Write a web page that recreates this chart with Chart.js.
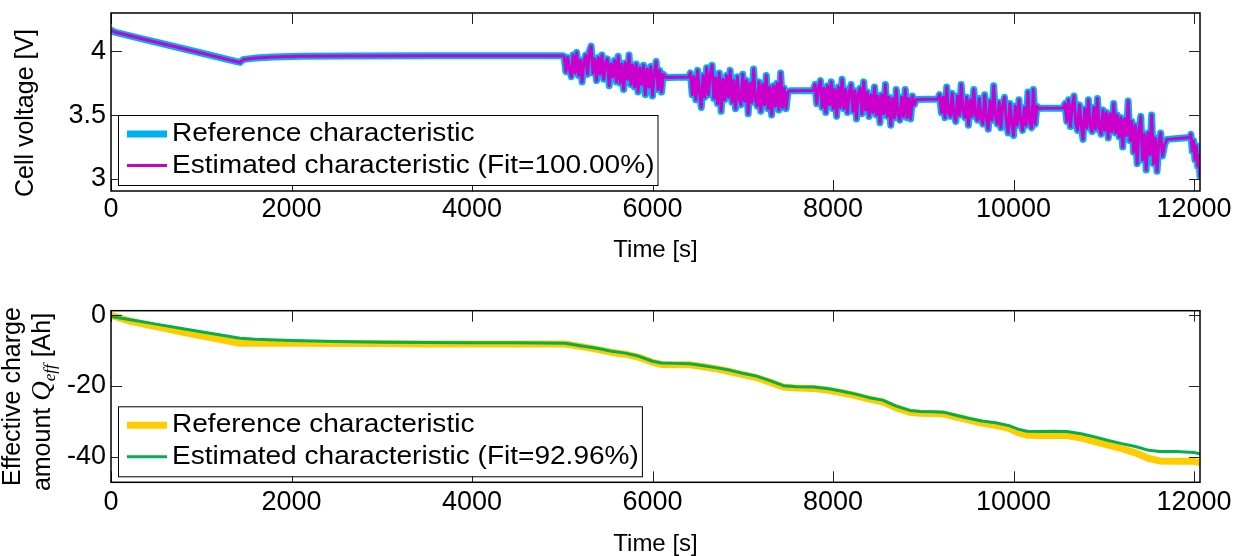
<!DOCTYPE html>
<html>
<head>
<meta charset="utf-8">
<script src="https://cdn.jsdelivr.net/npm/chart.js@4.4.1/dist/chart.umd.min.js"></script>
<style>
  body { margin: 0; background: #fff; }
  .panel { position: absolute; left: 0; width: 1242px; height: 278px; }
</style>
</head>
<body>
<div class="panel" style="top:0"><canvas id="voltage-chart" width="1242" height="278"></canvas></div>
<div class="panel" style="top:278px"><canvas id="charge-chart" width="1242" height="278"></canvas></div>
<script>
// Données : tension de cellule (référence = estimation, Fit=100%)
const timeV = [
  0, 40, 300, 700, 1000, 1300, 1430, 1450, 1470, 1600, 1800, 2100, 2600, 3500, 4500, 5005,
  5020, 5040, 5060, 5080, 5100, 5120, 5140, 5160, 5180, 5200,
  5220, 5240, 5260, 5280, 5300, 5320, 5340, 5360, 5380, 5400,
  5420, 5440, 5460, 5480, 5500, 5520, 5540, 5560, 5580, 5600,
  5620, 5640, 5660, 5680, 5700, 5720, 5740, 5760, 5780, 5800,
  5820, 5840, 5860, 5880, 5900, 5920, 5940, 5960, 5980, 6000,
  6020, 6040, 6060, 6080, 6100, 6120,
  6150, 6400,
  6420, 6440, 6460, 6480, 6500, 6520, 6540, 6560, 6580, 6600,
  6620, 6640, 6660, 6680, 6700, 6720, 6740, 6760, 6780, 6800,
  6820, 6840, 6860, 6880, 6900, 6920, 6940, 6960, 6980, 7000,
  7020, 7040, 7060, 7080, 7100, 7120, 7140, 7160, 7180, 7200,
  7220, 7240, 7260, 7280, 7300, 7320, 7340, 7360, 7380, 7400,
  7420, 7440, 7460, 7480, 7500,
  7525, 7780,
  7800, 7820, 7840, 7860, 7880, 7900, 7920, 7940, 7960, 7980,
  8000, 8020, 8040, 8060, 8080, 8100, 8120, 8140, 8160, 8180,
  8200, 8220, 8240, 8260, 8280, 8300, 8320, 8340, 8360, 8380,
  8400, 8420, 8440, 8460, 8480, 8500, 8520, 8540, 8560, 8580,
  8600, 8620, 8640, 8660, 8680, 8700, 8720, 8740, 8760, 8780,
  8800, 8820, 8840, 8860, 8880, 8900,
  8925, 9160,
  9180, 9200, 9220, 9240, 9260, 9280, 9300, 9320, 9340, 9360,
  9380, 9400, 9420, 9440, 9460, 9480, 9500, 9520, 9540, 9560,
  9580, 9600, 9620, 9640, 9660, 9680, 9700, 9720, 9740, 9760,
  9780, 9800, 9820, 9840, 9860, 9880, 9900, 9920, 9940, 9960,
  9980, 10000, 10020, 10040, 10060, 10080, 10100, 10120, 10140, 10160,
  10180, 10200, 10220, 10240, 10260, 10280,
  10300, 10550,
  10570, 10590, 10610, 10630, 10650, 10670, 10690, 10710, 10730, 10750,
  10770, 10790, 10810, 10830, 10850, 10870, 10890, 10910, 10930, 10950,
  10970, 10990, 11010, 11030, 11050, 11070, 11090, 11110, 11130, 11150,
  11170, 11190, 11210, 11230, 11250, 11270, 11290, 11310, 11330, 11350,
  11370, 11390, 11410, 11430, 11450, 11470, 11490, 11510, 11530, 11550,
  11570, 11590, 11610, 11630, 11650,
  11675, 11700, 11950,
  11965, 11980, 11995, 12010, 12025, 12040, 12055, 12066
];
const voltage = [
  4.165, 4.150, 4.105, 4.037, 3.986, 3.934, 3.912, 3.925, 3.936, 3.946, 3.955, 3.961, 3.963, 3.964, 3.965, 3.965,
  3.96, 3.84, 3.95, 3.86, 3.80, 3.97, 3.83, 3.99, 3.81, 3.93,
  3.76, 3.92, 3.97, 3.82, 4.00, 4.04, 3.83, 3.94, 3.77, 3.95,
  3.82, 3.97, 3.78, 3.91, 3.94, 3.73, 3.90, 3.80, 3.93, 3.76,
  3.96, 3.75, 3.90, 3.70, 3.91, 3.78, 3.97, 3.74, 3.89, 3.72,
  3.90, 3.68, 3.87, 3.74, 3.89, 3.66, 3.86, 3.72, 3.88, 3.65,
  3.83, 3.92, 3.70, 3.85, 3.68, 3.82,
  3.795, 3.798,
  3.83, 3.66, 3.80, 3.62, 3.85, 3.68, 3.56, 3.81, 3.64, 3.87,
  3.66, 3.82, 3.89, 3.63, 3.79, 3.59, 3.83, 3.53, 3.78, 3.62,
  3.81, 3.64, 3.85, 3.60, 3.77, 3.55, 3.80, 3.63, 3.58, 3.82,
  3.61, 3.77, 3.51, 3.75, 3.60, 3.86, 3.62, 3.57, 3.76, 3.53,
  3.74, 3.58, 3.81, 3.55, 3.72, 3.50, 3.73, 3.57, 3.75, 3.54,
  3.83, 3.56, 3.71, 3.55, 3.68,
  3.690, 3.693,
  3.74, 3.59, 3.72, 3.77, 3.56, 3.71, 3.52, 3.73, 3.58, 3.76,
  3.55, 3.70, 3.49, 3.72, 3.56, 3.78, 3.55, 3.70, 3.52, 3.68,
  3.74, 3.53, 3.69, 3.47, 3.67, 3.71, 3.51, 3.76, 3.54, 3.68,
  3.49, 3.66, 3.52, 3.72, 3.50, 3.65, 3.44, 3.66, 3.51, 3.74,
  3.49, 3.64, 3.42, 3.63, 3.48, 3.70, 3.50, 3.46, 3.64, 3.49,
  3.70, 3.48, 3.63, 3.47, 3.65, 3.58,
  3.622, 3.626,
  3.66, 3.52, 3.64, 3.48, 3.72, 3.52, 3.49, 3.67, 3.50, 3.45,
  3.65, 3.50, 3.74, 3.53, 3.48, 3.64, 3.42, 3.62, 3.49, 3.70,
  3.50, 3.46, 3.63, 3.47, 3.43, 3.66, 3.48, 3.39, 3.61, 3.46,
  3.73, 3.49, 3.43, 3.60, 3.40, 3.58, 3.64, 3.45, 3.36, 3.59,
  3.44, 3.34, 3.57, 3.42, 3.62, 3.45, 3.38, 3.56, 3.42, 3.68,
  3.44, 3.40, 3.70, 3.43, 3.57, 3.55,
  3.553, 3.556,
  3.59, 3.45, 3.62, 3.41, 3.57, 3.65, 3.43, 3.38, 3.58, 3.42,
  3.31, 3.55, 3.40, 3.62, 3.41, 3.37, 3.56, 3.39, 3.63, 3.40,
  3.35, 3.54, 3.38, 3.52, 3.32, 3.51, 3.37, 3.59, 3.36, 3.50,
  3.33, 3.48, 3.25, 3.47, 3.34, 3.61, 3.30, 3.45, 3.21, 3.42,
  3.12, 3.38, 3.49, 3.15, 3.35, 3.07, 3.36, 3.19, 3.50, 3.12,
  3.32, 3.06, 3.29, 3.36, 3.18,
  3.27, 3.31, 3.325,
  3.35, 3.22, 3.30, 3.15, 3.26, 3.10, 3.18, 3.02
];

// Charge effective Q_eff [Ah]
const timeQ = [
  0, 200, 500, 800, 1100, 1430, 1600, 2000, 2500, 3000,
  3500, 4000, 4500, 5030, 5200, 5400, 5550, 5700, 5850, 6000,
  6100, 6250, 6415, 6550, 6700, 6850, 7000, 7150, 7300, 7450,
  7600, 7785, 7950, 8100, 8250, 8400, 8550, 8700, 8850, 8965,
  9100, 9220, 9350, 9500, 9650, 9800, 9950, 10050, 10150, 10300,
  10450, 10590, 10750, 10900, 11050, 11200, 11350, 11500, 11620, 11800,
  12000, 12066
];
const qRef = [
  0.0, -1.6, -3.2, -4.8, -6.3, -7.9, -7.9, -7.9, -8.0, -8.0,
  -8.1, -8.1, -8.1, -8.1, -8.8, -9.7, -10.5, -11.0, -11.9, -13.3,
  -13.9, -14.0, -14.0, -14.5, -15.1, -15.9, -16.8, -17.6, -18.9, -20.3,
  -20.6, -20.7, -21.2, -21.9, -22.7, -23.7, -24.5, -26.2, -27.4, -27.7,
  -27.8, -27.9, -28.7, -29.6, -30.5, -31.1, -32.0, -33.2, -33.9, -34.0,
  -33.9, -34.0, -34.7, -35.7, -36.7, -37.7, -38.9, -40.5, -41.2, -41.3,
  -41.3, -41.7
];
const qEst = [
  -0.3, -1.2, -2.5, -3.8, -5.1, -6.5, -6.8, -7.1, -7.4, -7.6,
  -7.7, -7.8, -7.8, -7.9, -8.6, -9.4, -10.2, -10.7, -11.6, -13.0,
  -13.5, -13.6, -13.7, -14.2, -14.8, -15.5, -16.4, -17.2, -18.5, -19.9,
  -20.2, -20.3, -20.8, -21.5, -22.3, -23.3, -24.0, -25.7, -26.9, -27.2,
  -27.3, -27.4, -28.2, -29.1, -29.9, -30.4, -31.2, -32.2, -32.8, -32.9,
  -32.8, -32.9, -33.5, -34.4, -35.4, -36.3, -37.1, -38.2, -38.5, -38.5,
  -38.8, -39.2
];

const xTicks = [0, 2000, 4000, 6000, 8000, 10000, 12000];
const vTicks = [3, 3.5, 4];
const qTicks = [-40, -20, 0];

const FONT = 'Liberation Sans, Arial, sans-serif';

const toPoints = (xs, ys) => xs.map((x, i) => ({ x: x, y: ys[i] }));

// Cadre et graduations intérieures façon Matlab
const matlabBox = {
  id: 'matlabBox',
  afterDatasetsDraw(chart) {
    const { ctx, chartArea: a, scales } = chart;
    const x = scales.x, y = scales.y;
    const len = 11;
    ctx.save();
    ctx.strokeStyle = '#222';
    ctx.lineWidth = 1;
    ctx.beginPath();
    x.ticks.forEach(t => {
      const px = Math.round(x.getPixelForValue(t.value)) + 0.5;
      ctx.moveTo(px, a.bottom); ctx.lineTo(px, a.bottom - len);
      ctx.moveTo(px, a.top); ctx.lineTo(px, a.top + len);
    });
    y.ticks.forEach(t => {
      const py = Math.round(y.getPixelForValue(t.value)) + 0.5;
      ctx.moveTo(a.left, py); ctx.lineTo(a.left + len, py);
      ctx.moveTo(a.right, py); ctx.lineTo(a.right - len, py);
    });
    ctx.stroke();
    ctx.strokeStyle = '#000';
    ctx.lineWidth = 1.5;
    ctx.strokeRect(a.left, a.top, a.right - a.left, a.bottom - a.top);
    ctx.restore();
  },
  afterDraw(chart, args, opts) {
    const { ctx, chartArea: a } = chart;
    const sets = chart.data.datasets;
    const fontPx = 25.5, stretch = 1.1;
    ctx.save();
    ctx.font = fontPx + 'px ' + FONT;
    const textW = Math.max(...sets.map(d => ctx.measureText(d.label).width)) * stretch;
    const left = a.left + 7, bottom = a.bottom - 6, h = 70;
    const top = bottom - h;
    const w = 54 + textW + 3;
    ctx.fillStyle = '#fff';
    ctx.fillRect(left, top, w, h);
    ctx.strokeStyle = '#000';
    ctx.lineWidth = 1;
    ctx.strokeRect(left + 0.5, top + 0.5, w, h);
    // entrées : référence puis estimation
    const rows = [19, 50.5];
    sets.forEach((d, i) => {
      const yy = top + rows[i];
      ctx.strokeStyle = d.borderColor;
      ctx.lineWidth = d.borderWidth;
      ctx.beginPath();
      ctx.moveTo(left + 9, yy); ctx.lineTo(left + 49, yy);
      ctx.stroke();
      ctx.save();
      ctx.translate(left + 54, yy);
      ctx.scale(stretch, 1);
      ctx.fillStyle = '#000';
      ctx.textBaseline = 'middle';
      ctx.fillText(d.label, 0, 0);
      ctx.restore();
    });
    // titre de l'axe y (éventuellement sur deux lignes, polices mixtes)
    (opts.yTitle || []).forEach(line => {
      ctx.save();
      ctx.translate(line.x, line.y);
      ctx.rotate(-Math.PI / 2);
      ctx.fillStyle = '#000';
      ctx.textBaseline = 'alphabetic';
      let total = 0;
      line.parts.forEach(p => { ctx.font = p.font; total += ctx.measureText(p.text).width; });
      let cx = -total / 2;
      line.parts.forEach(p => {
        ctx.font = p.font;
        ctx.fillText(p.text, cx, p.dy || 0);
        cx += ctx.measureText(p.text).width;
      });
      ctx.restore();
    });
    ctx.restore();
  }
};

function makeChart(canvasId, cfg) {
  const ctx = document.getElementById(canvasId).getContext('2d');
  return new Chart(ctx, {
    type: 'line',
    data: { datasets: cfg.datasets },
    options: {
      responsive: false,
      animation: false,
      devicePixelRatio: 1,
      layout: { padding: { top: cfg.padTop, right: 42, bottom: 0, left: 0 } },
      plugins: {
        legend: { display: false },
        tooltip: { enabled: false },
        matlabBox: { yTitle: cfg.yTitle }
      },
      elements: { point: { radius: 0 }, line: { tension: 0, borderJoinStyle: 'round', borderCapStyle: 'round' } },
      scales: {
        x: {
          type: 'linear',
          min: 0,
          max: 12066,
          grid: { display: false, drawTicks: false },
          border: { display: false },
          afterBuildTicks: s => { s.ticks = xTicks.map(v => ({ value: v })); },
          afterFit: s => { s.height = cfg.xHeight; s.paddingLeft = 0; s.paddingRight = 0; },
          ticks: {
            color: '#000',
            padding: cfg.xTickPad,
            maxRotation: 0,
            autoSkip: false,
            font: { family: FONT, size: 27, lineHeight: 1 },
            callback: v => String(v)
          },
          title: {
            display: true,
            text: 'Time [s]',
            color: '#000',
            font: { family: FONT, size: 24, lineHeight: 1 },
            padding: { top: 0, bottom: cfg.xTitlePad }
          }
        },
        y: {
          type: 'linear',
          min: cfg.yMin,
          max: cfg.yMax,
          grid: { display: false, drawTicks: false },
          border: { display: false },
          afterBuildTicks: s => { s.ticks = cfg.yTicks.map(v => ({ value: v })); },
          afterFit: s => { s.width = 111; s.paddingTop = 0; s.paddingBottom = 0; },
          ticks: {
            color: '#000',
            padding: 5,
            autoSkip: false,
            font: { family: FONT, size: 27, lineHeight: 1 },
            callback: v => String(v)
          }
        }
      }
    },
    plugins: [matlabBox]
  });
}

function initCharts() {
  if (timeV.length !== voltage.length || timeQ.length !== qRef.length || timeQ.length !== qEst.length) {
    console.error('Longueurs de séries incohérentes', timeV.length, voltage.length, timeQ.length, qRef.length, qEst.length);
  }

  makeChart('voltage-chart', {
    padTop: 13, xHeight: 87, xTickPad: 5.5, xTitlePad: 16,
    yMin: 2.906, yMax: 4.299, yTicks: vTicks,
    yTitle: [
      { x: 33, y: 113, parts: [{ text: 'Cell voltage [V]', font: '25px ' + FONT }] }
    ],
    datasets: [
      { label: 'Reference characteristic', data: toPoints(timeV, voltage), borderColor: '#00B0F0', borderWidth: 7, order: 2 },
      { label: 'Estimated characteristic (Fit=100.00%)', data: toPoints(timeV, voltage), borderColor: '#CC00CC', borderWidth: 3, order: 1 }
    ]
  });

  makeChart('charge-chart', {
    padTop: 32.7, xHeight: 73.7, xTickPad: 7, xTitlePad: 0,
    yMin: -47.24, yMax: 1.3, yTicks: qTicks,
    yTitle: [
      { x: 19.5, y: 118.5, parts: [{ text: 'Effective charge', font: '25px ' + FONT }] },
      { x: 50, y: 124, parts: [
        { text: 'amount ', font: '25px ' + FONT },
        { text: 'Q', font: 'italic 27px Liberation Serif, serif' },
        { text: 'eff', font: 'italic 17px Liberation Serif, serif', dy: 5 },
        { text: ' [Ah]', font: '25px ' + FONT }
      ] }
    ],
    datasets: [
      { label: 'Reference characteristic', data: toPoints(timeQ, qRef), borderColor: '#FFCC00', borderWidth: 7, order: 2 },
      { label: 'Estimated characteristic (Fit=92.96%)', data: toPoints(timeQ, qEst), borderColor: '#00B050', borderWidth: 3, order: 1 }
    ]
  });
}

initCharts();
</script>
</body>
</html>
